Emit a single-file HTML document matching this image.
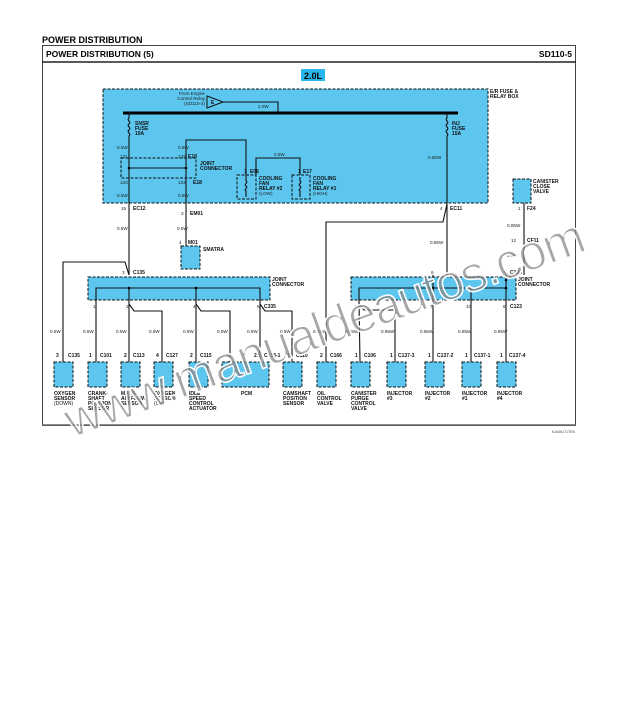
<!DOCTYPE html>
<html><head><meta charset="utf-8"><style>
html,body{margin:0;padding:0;background:#fff;}
svg{display:block;font-family:"Liberation Sans",sans-serif;}
.t{font-size:5px;font-weight:bold;fill:#111;}
.s{font-size:4.6px;fill:#222;}
.b{fill:#5cc6ef;stroke:#111;stroke-width:1;stroke-dasharray:3,1.5;}
.w{stroke:#111;stroke-width:1.1;fill:none;}
</style></head><body>
<svg width="619" height="702" viewBox="0 0 619 702" xmlns="http://www.w3.org/2000/svg">
<text x="42" y="43" style="font-size:9px;font-weight:bold">POWER  DISTRIBUTION</text>
<rect x="42.5" y="45.5" width="533" height="380" fill="none" stroke="#444" stroke-width="1"/>
<line x1="42" y1="62" x2="576" y2="62" stroke="#222" stroke-width="1.6"/>
<line x1="42" y1="425" x2="576" y2="425" stroke="#666" stroke-width="1.5"/>
<text x="46" y="57" style="font-size:8.5px;font-weight:bold">POWER DISTRIBUTION (5)</text>
<text x="572" y="57" text-anchor="end" style="font-size:8.5px;font-weight:bold">SD110-5</text>
<rect x="301" y="69" width="24" height="12" fill="#29b6ea"/>
<text x="313" y="79" text-anchor="middle" style="font-size:9px;font-weight:bold">2.0L</text>

<!-- fuse box -->
<rect class="b" x="103" y="89" width="385" height="114"/>
<text class="t" x="490" y="93">E/R FUSE &amp;</text><text class="t" x="490" y="98">RELAY BOX</text>
<text class="s" x="205" y="95" text-anchor="end">From Engine</text>
<text class="s" x="205" y="100" text-anchor="end">Control Relay</text>
<text class="s" x="205" y="105" text-anchor="end">(SD110-3)</text>
<polygon points="207,96 223,102 207,108" fill="none" stroke="#111"/>
<text class="t" x="211" y="104">E</text>
<polyline class="w" points="223,102 278,102 278,113"/>
<text class="s" x="258" y="108">2.0W</text>
<line x1="123" y1="113" x2="458" y2="113" stroke="#000" stroke-width="3"/>
<!-- left fuse -->
<path class="w" d="M129,113 v5 c-3,2 3,4 0,6 c-3,2 3,4 0,6 c-3,2 3,4 0,6 V275"/>
<text class="t" x="135" y="125">SNSR</text><text class="t" x="135" y="130">FUSE</text><text class="t" x="135" y="135">10A</text>
<text class="s" x="117" y="149">0.5W</text><text class="s" x="120" y="158">131</text>
<text class="s" x="120" y="184">133</text><text class="s" x="117" y="197">0.5W</text>
<rect x="121" y="158" width="75" height="20" fill="none" stroke="#111" stroke-dasharray="3,1.5"/>
<line class="w" x1="129" y1="168" x2="186" y2="168"/>
<circle cx="129" cy="168" r="1.3"/><circle cx="186" cy="168" r="1.3"/>
<polyline class="w" points="186,250 186,140 246,140 246,177"/>
<text class="s" x="178" y="149">0.5W</text><text class="s" x="178" y="158">132</text>
<text class="t" x="188" y="158">E18</text>
<text class="t" x="200" y="165">JOINT</text><text class="t" x="200" y="170">CONNECTOR</text>
<text class="s" x="178" y="184">134</text><text class="t" x="193" y="184">E18</text>
<text class="s" x="178" y="197">0.5W</text>
<!-- relays -->
<polyline class="w" points="256,175 256,158 300,158 300,175"/>
<text class="s" x="274" y="156">0.5W</text>
<rect x="237" y="175" width="19" height="24" fill="none" stroke="#111" stroke-dasharray="3,1.5"/>
<rect x="292" y="175" width="18" height="24" fill="none" stroke="#111" stroke-dasharray="3,1.5"/>
<path class="w" d="M246,177 v4 c3,2 -3,3 0,5 c3,2 -3,3 0,5 v6"/>
<path class="w" d="M300,177 v4 c3,2 -3,3 0,5 c3,2 -3,3 0,5 v6"/>
<text class="t" x="244" y="173">1</text><text class="t" x="250" y="173">E06</text>
<text class="t" x="298" y="173">1</text><text class="t" x="303" y="173">E17</text>
<text class="t" x="259" y="180">COOLING</text><text class="t" x="259" y="185">FAN</text><text class="t" x="259" y="190">RELAY #2</text><text class="s" x="259" y="195">(LOW)</text>
<text class="t" x="313" y="180">COOLING</text><text class="t" x="313" y="185">FAN</text><text class="t" x="313" y="190">RELAY #1</text><text class="s" x="313" y="195">(HIGH)</text>
<!-- right fuse -->
<path class="w" d="M447,113 v5 c-3,2 3,4 0,6 c-3,2 3,4 0,6 c-3,2 3,4 0,6 V275"/>
<text class="t" x="452" y="125">INJ</text><text class="t" x="452" y="130">FUSE</text><text class="t" x="452" y="135">15A</text>
<text class="s" x="428" y="159">0.85W</text>
<text class="s" x="440" y="210">4</text><text class="t" x="450" y="210">EC11</text>
<polyline class="w" points="447,204 443,222 326,222 326,362"/>
<text class="s" x="430" y="244">0.85W</text>
<!-- canister close -->
<rect class="b" x="513" y="179" width="18" height="24"/>
<text class="t" x="533" y="183">CANISTER</text><text class="t" x="533" y="188">CLOSE</text><text class="t" x="533" y="193">VALVE</text>
<line class="w" x1="524" y1="203" x2="524" y2="275"/>
<text class="s" x="518" y="210">1</text><text class="t" x="527" y="210">F24</text>
<text class="s" x="507" y="227">0.85W</text>
<text class="s" x="511" y="242">12</text><text class="t" x="527" y="242">CF11</text>
<text class="s" x="507" y="257">0.5W</text>
<!-- EC12, M01 -->
<text class="s" x="121" y="210">15</text><text class="t" x="133" y="210">EC12</text>
<text class="s" x="117" y="230">0.5W</text>
<text class="s" x="181" y="215">3</text><text class="t" x="190" y="215">EM01</text>
<text class="s" x="177" y="230">0.5W</text>
<rect class="b" x="181" y="246" width="19" height="23"/>
<text class="s" x="179" y="244">4</text><text class="t" x="188" y="244">M01</text>
<text class="t" x="203" y="251">SMATRA</text>
<!-- left joint -->
<polyline class="w" points="63,362 63,262 125,262 129,275"/>
<rect class="b" x="88" y="277" width="182" height="23"/>
<text class="s" x="122" y="274">3</text><text class="t" x="133" y="274">C135</text>
<text class="t" x="272" y="281">JOINT</text><text class="t" x="272" y="286">CONNECTOR</text>
<polyline class="w" points="96,300 96,288 260,288 260,300"/>
<line class="w" x1="129" y1="288" x2="129" y2="300"/><line class="w" x1="196" y1="288" x2="196" y2="300"/>
<circle cx="129" cy="288" r="1.3"/><circle cx="196" cy="288" r="1.3"/>
<line class="w" x1="96" y1="300" x2="96" y2="362"/>
<polyline class="w" points="129,300 129,362"/><polyline class="w" points="129,304 134,311 162,311 162,362"/>
<polyline class="w" points="196,300 196,362"/><polyline class="w" points="196,304 201,311 230,311 230,362"/>
<polyline class="w" points="260,300 260,362"/><polyline class="w" points="260,304 265,311 292,311 292,362"/>
<text class="s" x="93" y="308">1</text><text class="s" x="126" y="308">2</text><text class="s" x="193" y="308">4</text><text class="s" x="257" y="308">5</text>
<text class="t" x="264" y="308">C335</text>
<!-- right joint -->
<rect class="b" x="351" y="277" width="165" height="23"/>
<text class="s" x="431" y="274">6</text><text class="s" x="504" y="274">5</text><text class="t" x="510" y="274">C123</text>
<text class="t" x="518" y="281">JOINT</text><text class="t" x="518" y="286">CONNECTOR</text>
<polyline class="w" points="359,300 359,288 506,288"/>
<line class="w" x1="433" y1="275" x2="433" y2="362"/><line class="w" x1="506" y1="275" x2="506" y2="362"/>
<line class="w" x1="471" y1="288" x2="471" y2="362"/>
<circle cx="433" cy="288" r="1.3"/><circle cx="471" cy="288" r="1.3"/><circle cx="506" cy="288" r="1.3"/><circle cx="433" cy="280" r="1.3"/><circle cx="506" cy="280" r="1.3"/>
<line class="w" x1="359" y1="300" x2="360" y2="362"/><polyline class="w" points="359,304 364,310 395,310 395,362"/>
<text class="s" x="355" y="308">9</text><text class="s" x="430" y="308">7</text><text class="s" x="466" y="308">10</text><text class="s" x="503" y="308">8</text>
<text class="t" x="510" y="308">C123</text>
<!-- wire sizes -->
<g class="s">
<text x="50" y="333">0.5W</text><text x="83" y="333">0.5W</text><text x="116" y="333">0.5W</text><text x="149" y="333">0.5W</text>
<text x="183" y="333">0.5W</text><text x="217" y="333">0.5W</text><text x="247" y="333">0.5W</text><text x="280" y="333">0.5W</text>
<text x="313" y="333">0.85W</text><text x="345" y="333">0.85W</text><text x="381" y="333">0.85W</text><text x="420" y="333">0.85W</text>
<text x="458" y="333">0.85W</text><text x="494" y="333">0.85W</text>
</g>
<!-- components -->
<g>
<rect class="b" x="54" y="362" width="19" height="25"/><rect class="b" x="88" y="362" width="19" height="25"/>
<rect class="b" x="121" y="362" width="19" height="25"/><rect class="b" x="154" y="362" width="19" height="25"/>
<rect class="b" x="189" y="362" width="19" height="25"/><rect class="b" x="222" y="362" width="47" height="25"/>
<rect class="b" x="283" y="362" width="19" height="25"/><rect class="b" x="317" y="362" width="19" height="25"/>
<rect class="b" x="351" y="362" width="19" height="25"/><rect class="b" x="387" y="362" width="19" height="25"/>
<rect class="b" x="425" y="362" width="19" height="25"/><rect class="b" x="462" y="362" width="19" height="25"/>
<rect class="b" x="497" y="362" width="19" height="25"/>
</g>
<g class="t">
<text x="56" y="357">3</text><text x="68" y="357">C135</text>
<text x="89" y="357">1</text><text x="100" y="357">C101</text>
<text x="124" y="357">2</text><text x="133" y="357">C113</text>
<text x="156" y="357">4</text><text x="166" y="357">C127</text>
<text x="190" y="357">2</text><text x="200" y="357">C115</text>
<text x="226" y="357">1</text><text x="254" y="357">21</text><text x="264" y="357">C133-1</text>
<text x="287" y="357">1</text><text x="296" y="357">C110</text>
<text x="320" y="357">2</text><text x="330" y="357">C166</text>
<text x="355" y="357">1</text><text x="364" y="357">C106</text>
<text x="390" y="357">1</text><text x="398" y="357">C137-3</text>
<text x="428" y="357">1</text><text x="437" y="357">C137-2</text>
<text x="465" y="357">1</text><text x="474" y="357">C137-1</text>
<text x="500" y="357">1</text><text x="509" y="357">C137-4</text>
<text x="54" y="395">OXYGEN</text><text x="54" y="400">SENSOR</text><text x="54" y="405" font-weight="normal">(DOWN)</text>
<text x="88" y="395">CRANK-</text><text x="88" y="400">SHAFT</text><text x="88" y="405">POSITION</text><text x="88" y="410">SENSOR</text>
<text x="121" y="395">MASS</text><text x="121" y="400">AIR FLOW</text><text x="121" y="405">SENSOR</text>
<text x="154" y="395">OXYGEN</text><text x="154" y="400">SENSOR</text><text x="154" y="405" font-weight="normal">(UP)</text>
<text x="189" y="395">IDLE</text><text x="189" y="400">SPEED</text><text x="189" y="405">CONTROL</text><text x="189" y="410">ACTUATOR</text>
<text x="241" y="395">PCM</text>
<text x="283" y="395">CAMSHAFT</text><text x="283" y="400">POSITION</text><text x="283" y="405">SENSOR</text>
<text x="317" y="395">OIL</text><text x="317" y="400">CONTROL</text><text x="317" y="405">VALVE</text>
<text x="351" y="395">CANISTER</text><text x="351" y="400">PURGE</text><text x="351" y="405">CONTROL</text><text x="351" y="410">VALVE</text>
<text x="387" y="395">INJECTOR</text><text x="387" y="400">#3</text>
<text x="425" y="395">INJECTOR</text><text x="425" y="400">#2</text>
<text x="462" y="395">INJECTOR</text><text x="462" y="400">#1</text>
<text x="497" y="395">INJECTOR</text><text x="497" y="400">#4</text>
</g>
<text x="575" y="433" text-anchor="end" style="font-size:3.5px;fill:#444">KJA06171TEN</text>
<!-- watermark -->
<text x="0" y="0" transform="translate(72,438) rotate(-20)" style="font-size:50px;font-family:'Liberation Sans',sans-serif;fill:#888;fill-opacity:0.75;stroke:#fff;stroke-width:1.5;letter-spacing:-1px">www.manualdeautos.com</text>
</svg>
</body></html>
